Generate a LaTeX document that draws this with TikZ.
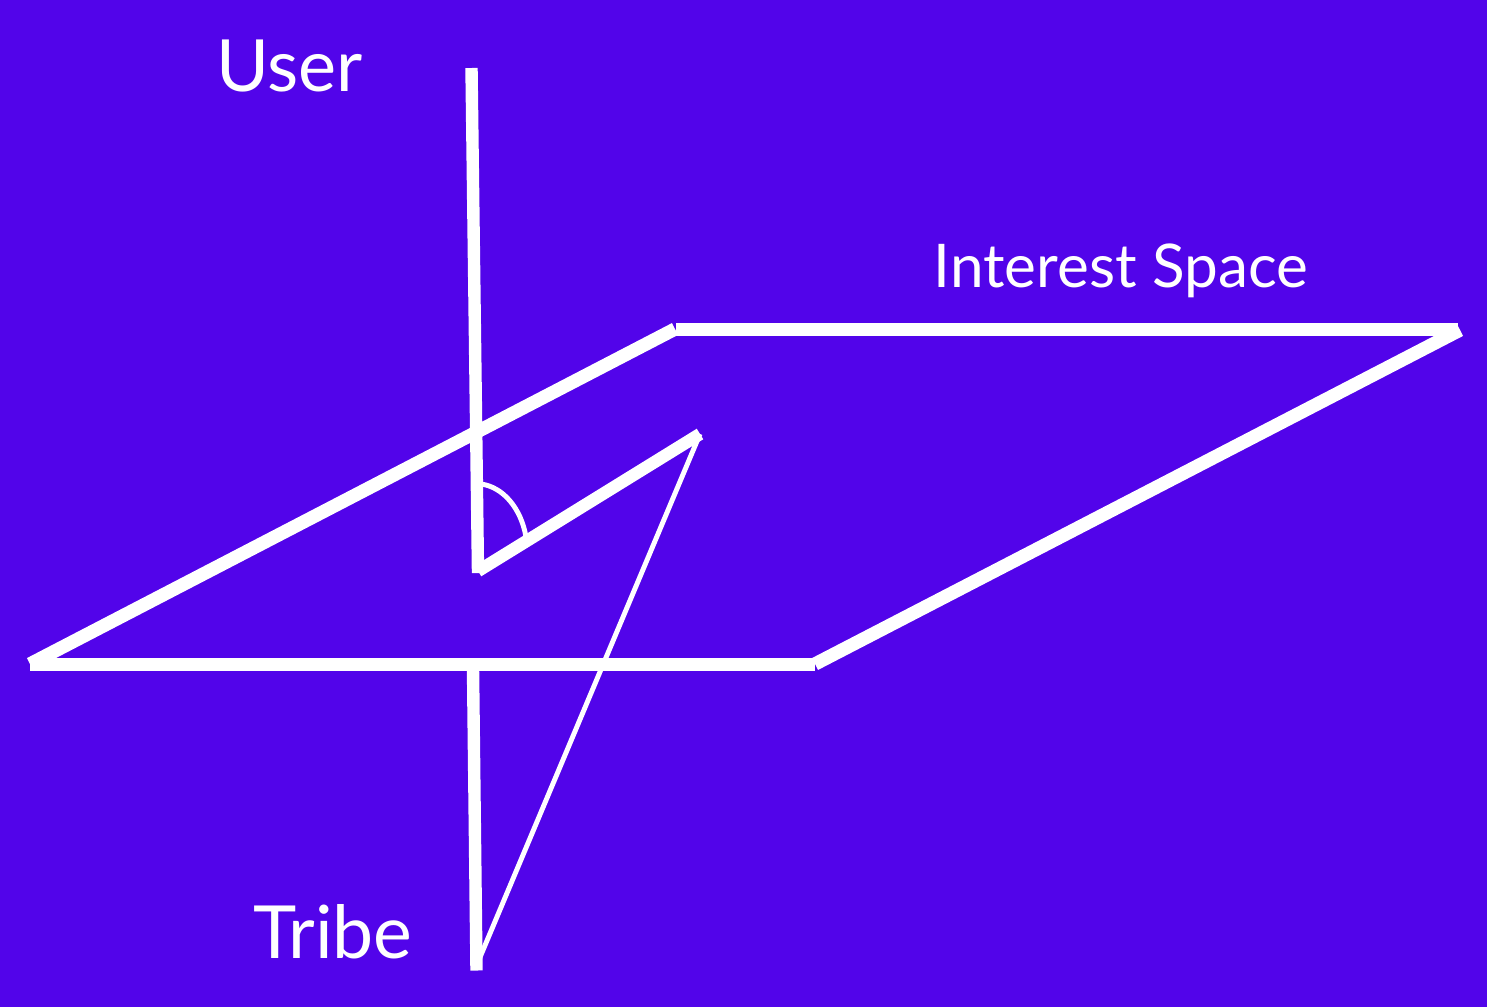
\documentclass[tikz,border=0pt]{standalone}
\usepackage{fontspec}
\setmainfont{Lato}
\definecolor{bgp}{RGB}{82,4,234}
\tikzset{thick line/.style={draw=white,line width=9.3pt},slant line/.style={draw=white,line width=10pt},thin line/.style={draw=white,line width=3.7pt},
lab/.style={text=white,inner sep=0pt,font=\fontsize{54}{54}\selectfont}}
\begin{document}
\begin{tikzpicture}[x=0.75pt,y=-0.75pt]
\useasboundingbox (0,0) rectangle (1487,1007);
\fill[bgp] (0,0) rectangle (1487,1007);
\coordinate (ut) at (471.5,68);
\coordinate (ub) at (478,573);
\coordinate (vb) at (478,571);
\coordinate (tt) at (473,668);
\coordinate (tb) at (476.5,970.5);
\coordinate (thinb) at (478,962);
\coordinate (al) at (30,664.5);
\coordinate (ar) at (30,664);
\coordinate (b) at (676,329.5);
\coordinate (bb) at (675,329);
\coordinate (c) at (1458,329.5);
\coordinate (cc) at (1460,330);
\coordinate (d) at (815,664.5);
\coordinate (dd) at (815,664);
\coordinate (e) at (700,434);
\draw[slant line] (ar) -- (bb);
\draw[thick line] (b) -- (c);
\draw[slant line] (cc) -- (dd);
\draw[thick line] (al) -- (d);
\draw[thick line] (ut) -- (ub);
\draw[thick line] (vb) -- (e);
\draw[thick line] (tt) -- (tb);
\draw[thin line] (e) -- (thinb);
\draw[thin line] (481,484) .. controls (503,487) and (521,508) .. (526,537);
\node[lab,anchor=base west] (user) at (216,91) {User};
\node[lab,anchor=base west,font=\fontsize{45.2}{46}\selectfont] (space) at (933.5,287) {Interest Space};
\node[lab,anchor=base west,font=\fontsize{55}{55}\selectfont] (tribe) at (253,958) {Tribe};
\end{tikzpicture}
\end{document}
